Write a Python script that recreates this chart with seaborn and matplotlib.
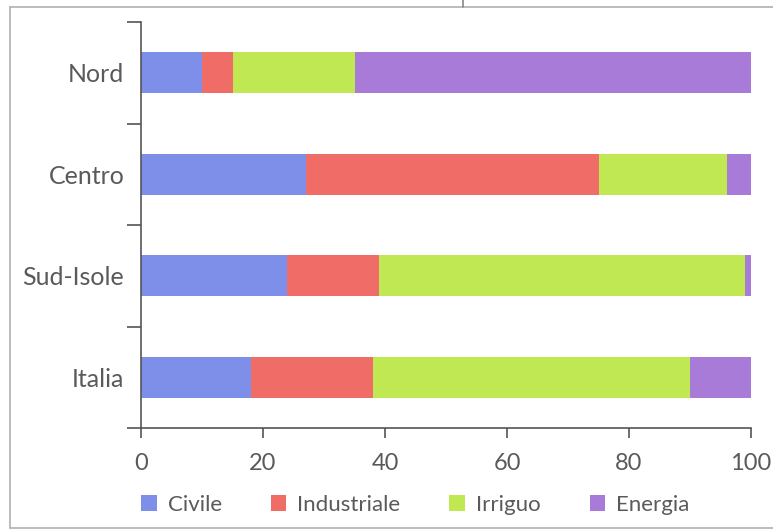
import matplotlib
matplotlib.use("Agg")
import matplotlib.pyplot as plt
from matplotlib.lines import Line2D
from matplotlib.patches import Patch
import seaborn as sns
import pandas as pd

# Uso dell'acqua per area geografica (%)
regioni = ["Nord", "Centro", "Sud-Isole", "Italia"]
settori = ["Civile", "Industriale", "Irriguo", "Energia"]
civile = [10, 27, 24, 18]
industriale = [5, 48, 15, 20]
irriguo = [20, 21, 60, 52]
energia = [65, 4, 1, 10]
colori = ["#7d8fe8", "#f06c66", "#bfe852", "#a97bd8"]
xticks = [0, 20, 40, 60, 80, 100]

sns.set_theme(style="white")
plt.rcParams["font.family"] = ["Lato", "DejaVu Sans"]

W, H = 773, 531
fig = plt.figure(figsize=(W / 100, H / 100), dpi=100)
ax = fig.add_axes([141 / W, 1 - 428 / H, (751 - 141) / W, (428 - 22) / H])

df = pd.DataFrame({"regione": regioni, "Civile": civile, "Industriale": industriale,
                   "Irriguo": irriguo, "Energia": energia})
cum = df[settori].cumsum(axis=1)

# Stacked bars: draw cumulative totals from the widest to the narrowest
for s, c in reversed(list(zip(settori, colori))):
    sns.barplot(data=pd.DataFrame({"regione": regioni, "v": cum[s]}),
                x="v", y="regione", orient="h", color=c, width=0.4,
                saturation=1, ax=ax, edgecolor="none", linewidth=0)

ax.set_xlim(0, 100)
ax.set_ylim(3.5, -0.5)
ax.set_xlabel("")
ax.set_ylabel("")

axis_col = "#555555"
text_col = "#5a5a5a"
for side in ["top", "right"]:
    ax.spines[side].set_visible(False)
for side in ["left", "bottom"]:
    ax.spines[side].set_color(axis_col)
    ax.spines[side].set_linewidth(1.2)

ax.set_xticks(xticks)
ax.set_xticklabels([str(t) for t in xticks])
ax.tick_params(axis="x", bottom=True, direction="out", length=7, width=1.2, color=axis_col,
               labelsize=17, labelcolor=text_col, pad=11)

# Category labels at bar centres, tick marks at category boundaries
ax.set_yticks([-0.5, 0.5, 1.5, 2.5, 3.5], minor=False)
ax.set_yticklabels([])
ax.set_yticks(range(len(regioni)), minor=True)
ax.set_yticklabels(regioni, minor=True)
ax.tick_params(axis="y", which="major", left=True, direction="out", length=10, width=1.2,
               color=axis_col)
ax.tick_params(axis="y", which="minor", left=True, length=0, labelsize=18,
               labelcolor=text_col, pad=12)

handles = [Patch(facecolor=c, edgecolor="none", label=s) for s, c in zip(settori, colori)]
fig.legend(handles=handles, loc="center left", bbox_to_anchor=(141 / W, 1 - 505 / H),
           ncol=4, frameon=False, fontsize=16, labelcolor=text_col,
           handlelength=0.7, handleheight=0.7, handletextpad=0.5, columnspacing=2.2,
           borderaxespad=0, borderpad=0)

# Page frame
frame_col = "#b0b0b0"
fig.add_artist(Line2D([10 / W, 10 / W], [1 - 7 / H, 1 - 528 / H], color=frame_col, lw=1.2))
fig.add_artist(Line2D([10 / W, 1], [1 - 7 / H, 1 - 7 / H], color=frame_col, lw=1.2))
fig.add_artist(Line2D([10 / W, 1], [1 - 528 / H, 1 - 528 / H], color=frame_col, lw=1.2))
fig.add_artist(Line2D([463 / W, 463 / W], [1, 1 - 7 / H], color="#888888", lw=1.2))

fig.savefig("out.png", dpi=100)
